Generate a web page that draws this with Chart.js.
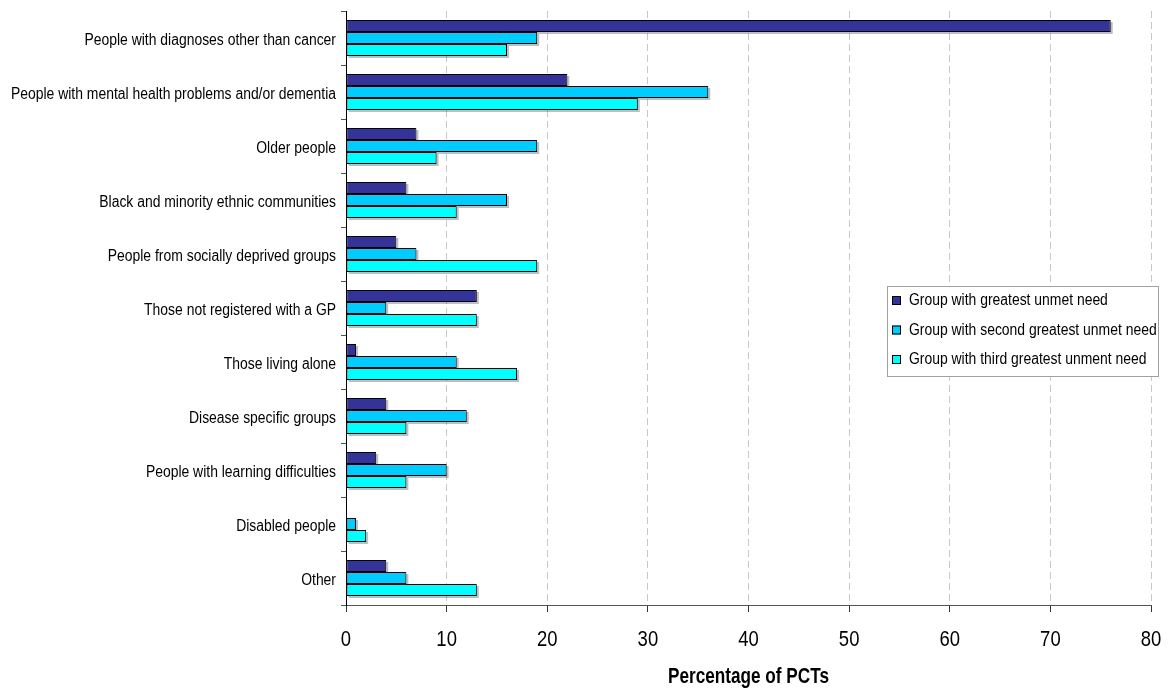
<!DOCTYPE html>
<html>
<head>
<meta charset="utf-8">
<title>Groups with unmet need</title>
<script src="https://cdn.jsdelivr.net/npm/chart.js@4/dist/chart.umd.min.js"></script>
<style>
  html, body { margin: 0; padding: 0; background: #ffffff; }
  #wrap { width: 1169px; height: 693px; }
</style>
</head>
<body>
<div id="wrap"><canvas id="chart" width="1169" height="693"></canvas></div>
<script>
// Patient groups, top to bottom
const categories = [
  "People with diagnoses other than cancer",
  "People with mental health problems and/or dementia",
  "Older people",
  "Black and minority ethnic communities",
  "People from socially deprived groups",
  "Those not registered with a GP",
  "Those living alone",
  "Disease specific groups",
  "People with learning difficulties",
  "Disabled people",
  "Other"
];

const seriesNames = [
  "Group with greatest unmet need",
  "Group with second greatest unmet need",
  "Group with third greatest unment need"
];

// Percentage of PCTs naming each group
const greatestNeed = [76, 22, 7, 6, 5, 13, 1, 4, 3, 0, 4];
const secondNeed   = [19, 36, 19, 16, 7, 4, 11, 12, 10, 1, 6];
const thirdNeed    = [16, 29, 9, 11, 19, 13, 17, 6, 6, 2, 13];

const xTicks = [0, 10, 20, 30, 40, 50, 60, 70, 80];

const FONT = "'Liberation Sans', Arial, sans-serif";
const seriesColors = ['#333399', '#00CCFF', '#00FFFF'];

// Narrow type: every string is drawn horizontally condensed
const narrowText = {
  id: 'narrowText',
  beforeInit(chart) {
    const ctx = chart.ctx;
    const proto = CanvasRenderingContext2D.prototype;
    ctx.fillText = function (text, x, y, maxWidth) {
      const w = proto.measureText.call(this, text).width;
      const bold = /bold|700/.test(this.font);
      const size = parseFloat((this.font.match(/([\d.]+)px/) || [0, 16])[1]);
      const squeeze = bold ? 0.78 : (size >= 20 ? 0.84 : 0.87);
      let target = w * squeeze;
      if (maxWidth !== undefined) target = Math.min(target, maxWidth);
      return proto.fillText.call(this, text, x, y, target);
    };
  }
};

// Soft drop shadow behind each bar, taken from the bar elements' own geometry
const barShadow = {
  id: 'barShadow',
  beforeDatasetsDraw(chart) {
    const ctx = chart.ctx;
    ctx.save();
    ctx.fillStyle = 'rgba(0,0,0,0.25)';
    chart.data.datasets.forEach((ds, i) => {
      const meta = chart.getDatasetMeta(i);
      meta.data.forEach(el => {
        const p = el.getProps(['x', 'y', 'base', 'height'], true);
        const left = Math.min(p.x, p.base), right = Math.max(p.x, p.base);
        if (right - left < 0.5) return;
        ctx.fillRect(left + 2, p.y - p.height / 2 + 2, right - left, p.height);
      });
    });
    ctx.restore();
  }
};

// Boxed legend placed inside the plot on the right
const boxLegend = {
  id: 'boxLegend',
  afterDraw(chart) {
    const ctx = chart.ctx;
    const bx = 887, by = 286, bw = 272, bh = 91;
    ctx.save();
    ctx.fillStyle = '#ffffff';
    ctx.fillRect(bx, by, bw, bh);
    ctx.strokeStyle = '#a0a0a0';
    ctx.lineWidth = 1;
    ctx.strokeRect(bx + 0.5, by + 0.5, bw - 1, bh - 1);
    ctx.font = '16px ' + FONT;
    ctx.textBaseline = 'middle';
    ctx.textAlign = 'left';
    chart.data.datasets.forEach((ds, i) => {
      const cy = by + 15 + i * 29.5;
      ctx.fillStyle = ds.backgroundColor;
      ctx.fillRect(892, cy - 5, 9, 9);
      ctx.strokeStyle = '#000000';
      ctx.strokeRect(892.5, cy - 4.5, 8, 8);
      ctx.fillStyle = '#000000';
      ctx.fillText(ds.label, 909, cy);
    });
    ctx.restore();
  }
};

new Chart(document.getElementById('chart'), {
  type: 'bar',
  data: {
    labels: categories,
    datasets: [
      { label: seriesNames[0], data: greatestNeed, backgroundColor: seriesColors[0] },
      { label: seriesNames[1], data: secondNeed, backgroundColor: seriesColors[1] },
      { label: seriesNames[2], data: thirdNeed, backgroundColor: seriesColors[2] }
    ]
  },
  options: {
    indexAxis: 'y',
    responsive: false,
    animation: false,
    devicePixelRatio: 1,
    layout: { padding: { top: 11, right: 18, left: 0, bottom: 0 } },
    datasets: {
      bar: {
        categoryPercentage: 0.667,
        barPercentage: 1.0,
        borderColor: '#000000',
        borderWidth: 1,
        borderSkipped: false
      }
    },
    plugins: {
      legend: { display: false },
      tooltip: { enabled: false }
    },
    scales: {
      x: {
        type: 'linear',
        position: 'bottom',
        min: 0,
        max: 80,
        afterBuildTicks(scale) { scale.ticks = xTicks.map(v => ({ value: v })); },
        afterFit(scale) {
          scale.height = 88;
          scale.paddingLeft = 0;
          scale.paddingRight = 0;
        },
        grid: {
          color: ctx => ctx.index === 0 ? 'rgba(0,0,0,0)' : '#c8c8c8',
          lineWidth: 1,
          tickColor: '#333333',
          tickLength: 7,
          tickBorderDash: []
        },
        border: { display: true, color: '#555555', width: 1, dash: [7, 4] },
        ticks: {
          color: '#000000',
          padding: 15,
          maxRotation: 0,
          font: { family: FONT, size: 22 },
          callback: v => String(v)
        },
        title: {
          display: true,
          text: 'Percentage of PCTs',
          color: '#000000',
          font: { family: FONT, size: 22, weight: 'bold' },
          padding: { top: 0, bottom: 3 }
        }
      },
      y: {
        type: 'category',
        afterFit(scale) {
          scale.width = 346;
          scale.paddingTop = 0;
          scale.paddingBottom = 0;
        },
        grid: {
          offset: true,
          drawOnChartArea: false,
          tickColor: '#555555',
          tickLength: 5
        },
        border: { display: true, color: '#000000', width: 1 },
        ticks: {
          color: '#000000',
          padding: 5,
          labelOffset: 2.5,
          font: { family: FONT, size: 16 },
          autoSkip: false
        }
      }
    }
  },
  plugins: [narrowText, barShadow, boxLegend]
});
</script>
</body>
</html>
